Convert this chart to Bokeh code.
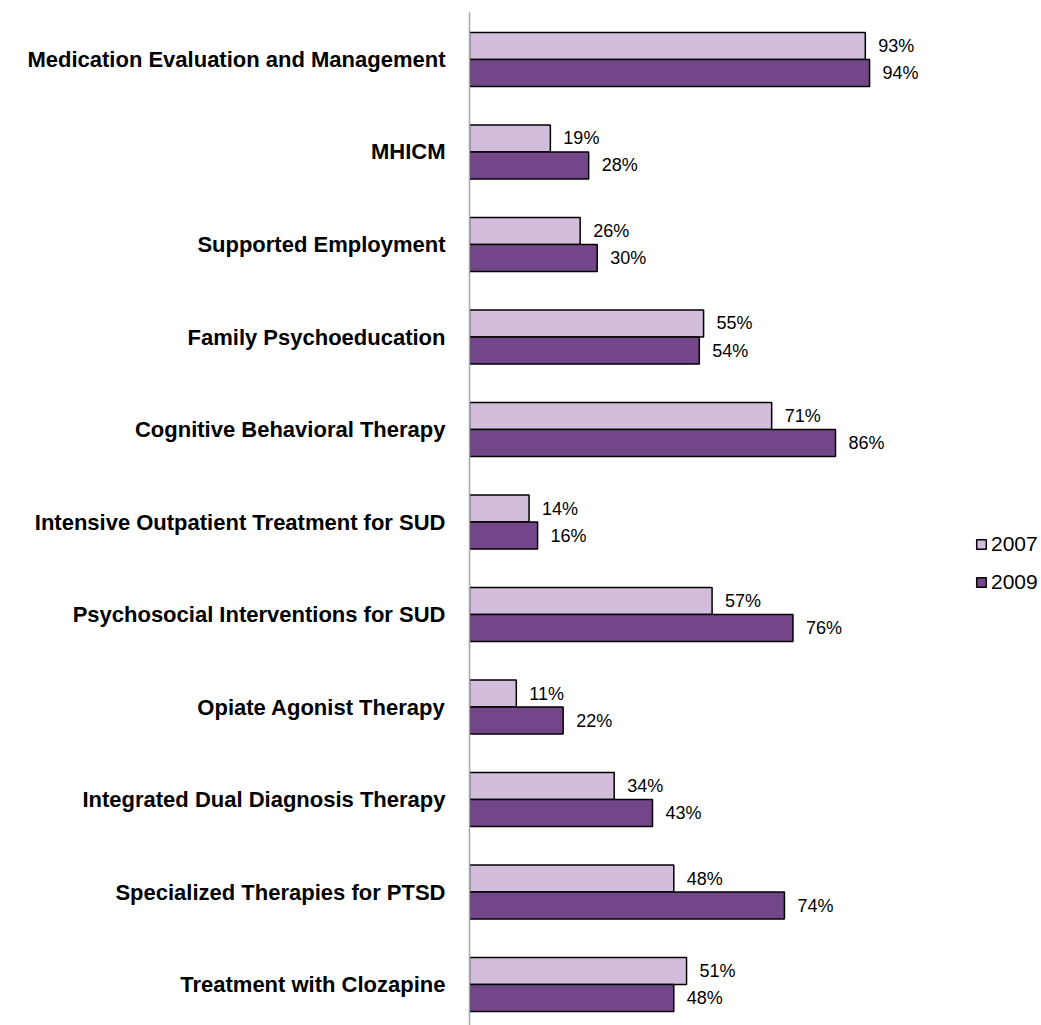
from bokeh.plotting import figure
from bokeh.models import ColumnDataSource, Range1d, FixedTicker, Legend, LegendItem
from bokeh.core.properties import value
from bokeh.embed import file_html
from bokeh.resources import INLINE
import numpy as np

categories = [
    "Medication Evaluation and Management",
    "MHICM",
    "Supported Employment",
    "Family Psychoeducation",
    "Cognitive Behavioral Therapy",
    "Intensive Outpatient Treatment for SUD",
    "Psychosocial Interventions for SUD",
    "Opiate Agonist Therapy",
    "Integrated Dual Diagnosis Therapy",
    "Specialized Therapies for PTSD",
    "Treatment with Clozapine",
]
v2007 = [93, 19, 26, 55, 71, 14, 57, 11, 34, 48, 51]
v2009 = [94, 28, 30, 54, 86, 16, 76, 22, 43, 74, 48]
years = ["2007", "2009"]

LIGHT = "#D2BEDC"
DARK = "#724689"
FONT = "Liberation Sans"

idx = np.arange(len(categories))
half = 0.146
bar_h = 0.292

src07 = ColumnDataSource(dict(y=idx - half, v=v2007, lab=[f"{v}%" for v in v2007]))
src09 = ColumnDataSource(dict(y=idx + half, v=v2009, lab=[f"{v}%" for v in v2009]))

p = figure(width=1041, height=1025, output_backend="svg", toolbar_location=None,
           x_range=Range1d(0, 134.4), y_range=Range1d(10.443, -0.508),
           min_border_left=469, min_border_right=0, min_border_top=12, min_border_bottom=0)
p.outline_line_color = None
p.xgrid.visible = False
p.ygrid.visible = False
p.xaxis.visible = False
p.background_fill_color = "white"

r07 = p.hbar(y="y", right="v", left=0, height=bar_h, source=src07,
             fill_color=LIGHT, line_color="black", line_width=1.5)
r09 = p.hbar(y="y", right="v", left=0, height=bar_h, source=src09,
             fill_color=DARK, line_color="black", line_width=1.5)

for s in (src07, src09):
    p.text(x="v", y="y", text="lab", source=s, x_offset=13,
           text_font=value(FONT), text_font_size="18px", text_color="black",
           text_align="left", text_baseline="middle")

ya = p.yaxis[0]
ya.ticker = FixedTicker(ticks=list(idx))
ya.major_label_overrides = {int(i): c for i, c in zip(idx, categories)}
ya.major_label_text_font = FONT
ya.major_label_text_font_style = "bold"
ya.major_label_text_font_size = "22px"
ya.major_label_text_color = "black"
ya.major_tick_out = 0
ya.major_tick_in = 0
ya.minor_tick_out = 0
ya.minor_tick_in = 0
ya.major_label_standoff = 24
ya.axis_line_color = "#A6A6A6"
ya.axis_line_width = 1.5

legend = Legend(items=[LegendItem(label=years[0], renderers=[r07]),
                       LegendItem(label=years[1], renderers=[r09])],
                location=(506, 431), padding=0, margin=0, spacing=14,
                glyph_width=12, glyph_height=12, label_standoff=4,
                label_text_font=FONT, label_text_font_size="21px",
                label_text_color="black",
                label_height=20, border_line_color=None,
                background_fill_alpha=0)
p.add_layout(legend, "center")

open("out.html", "w").write(file_html(p, INLINE))
